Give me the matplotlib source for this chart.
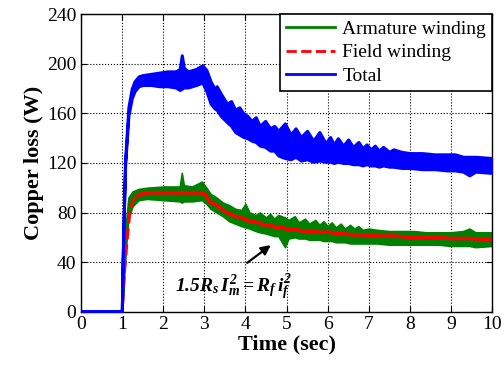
"""Copper loss of armature and field windings during start-up."""

import matplotlib

matplotlib.use("Agg")

import matplotlib.pyplot as plt
from matplotlib.lines import Line2D

# Total copper loss band (W)
t_total = [0.0, 0.99, 1.01, 1.04, 1.07, 1.15, 1.23, 1.3, 1.4, 1.5, 1.7, 1.9, 2.1, 2.3,
           2.4, 2.45, 2.5, 2.6, 2.8, 2.95, 3.05, 3.15, 3.25, 3.3, 3.4, 3.55, 3.65,
           3.75, 3.85, 3.95, 4.05, 4.15, 4.25, 4.35, 4.48, 4.6, 4.7, 4.8, 4.96, 5.1,
           5.22, 5.35, 5.5, 5.65, 5.8, 5.95, 6.06, 6.15, 6.25, 6.38, 6.5, 6.62, 6.75,
           6.85, 6.95, 7.05, 7.15, 7.25, 7.35, 7.5, 7.6, 7.8, 8.0, 8.3, 8.6, 8.9,
           9.1, 9.3, 9.45, 9.6, 10.0]
total_upper = [0, 0, 40, 82, 122, 165, 180, 186, 190, 191, 192, 193, 194, 194,
               196, 207, 197, 194, 196, 199, 195, 186, 180, 182, 176, 168, 170,
               163, 165, 160, 158, 154, 157, 150, 154, 148, 150, 146, 152, 143,
               148, 141, 146, 138, 145, 136, 141, 135, 140, 134, 139, 133, 137,
               132, 135, 131, 134, 130, 133, 129, 131, 129, 128, 128, 127, 127,
               127, 125, 125, 125, 124]
total_lower = [0, 0, 40, 82, 118, 158, 172, 178, 182, 183, 183, 182, 182, 181,
               179, 180, 181, 181, 183, 185, 178, 168, 164, 163, 158, 153, 150,
               145, 143, 141, 140, 138, 137, 134, 133, 130, 130, 126, 124, 123,
               125, 122, 123, 121, 122, 121, 121, 120, 121, 120, 120, 119, 119,
               118, 119, 118, 118, 117, 118, 117, 117, 116, 116, 115, 115, 114,
               114, 113, 110, 113, 112]

# Armature winding copper loss band (W)
t_arm = [0.0, 1.0, 1.05, 1.1, 1.15, 1.25, 1.4, 1.6, 2.0, 2.4, 2.45, 2.5, 2.7, 2.94,
         3.05, 3.15, 3.3, 3.45, 3.6, 3.75, 3.9, 4.0, 4.1, 4.25, 4.35, 4.5, 4.6,
         4.7, 4.8, 4.96, 5.05, 5.2, 5.3, 5.45, 5.55, 5.7, 5.8, 5.9, 6.0, 6.1,
         6.2, 6.32, 6.42, 6.55, 6.65, 6.75, 6.85, 7.0, 7.2, 7.5, 7.8, 8.1, 8.4,
         8.7, 9.0, 9.3, 9.45, 9.6, 10.0]
arm_upper = [0, 0, 45, 75, 92, 97, 99, 100, 101, 101, 112, 102, 101, 105,
             100, 95, 92, 88, 86, 83, 82, 87, 80, 78, 80, 76, 79,
             75, 78, 76, 74, 77, 72, 75, 71, 74, 70, 73, 69, 72,
             68, 71, 67, 70, 67, 69, 66, 67, 66, 65, 65, 65, 64,
             64, 64, 65, 67, 64, 64]
arm_lower = [0, 0, 30, 55, 75, 85, 90, 91, 90, 89, 88, 89, 89, 90,
             87, 83, 80, 77, 73, 71, 69, 68, 67, 65, 64, 63, 62,
             61, 61, 52, 59, 60, 59, 59, 58, 58, 58, 57, 57, 57,
             56, 56, 56, 55, 55, 55, 55, 55, 55, 54, 54, 54, 54,
             54, 53, 53, 53, 52, 53]

# Field winding copper loss (W)
t_field = [0.0, 1.0, 1.05, 1.11, 1.18, 1.26, 1.39, 1.6, 2.0, 2.5, 2.95, 3.05, 3.15,
           3.3, 3.45, 3.6, 3.75, 3.9, 4.1, 4.3, 4.44, 4.6, 4.75, 4.9, 5.05, 5.25,
           5.4, 5.6, 5.8, 6.06, 6.3, 6.6, 6.87, 7.2, 7.6, 8.0, 8.5, 9.0, 9.5, 10.0]
field_loss = [0, 0, 30, 55, 79, 90, 94, 96, 96, 96, 96, 93, 88,
              86, 82, 79, 77, 76, 73, 72, 70, 70, 68, 68, 66, 66,
              65, 65, 64, 64, 63, 62, 62, 61, 61, 60, 60, 59, 59, 58]

legend_labels = ["Armature winding", "Field winding", "Total"]
x_ticks = list(range(0, 11))
y_ticks = list(range(0, 241, 40))

GREEN = "#008000"
RED = "#ff0000"
BLUE = "#0000ff"

plt.rcParams["font.family"] = "serif"
plt.rcParams["font.serif"] = ["Liberation Serif", "DejaVu Serif"]
plt.rcParams["mathtext.fontset"] = "custom"
plt.rcParams["mathtext.rm"] = "Liberation Serif:bold:italic"
plt.rcParams["mathtext.it"] = "Liberation Serif:bold:italic"
plt.rcParams["mathtext.bf"] = "Liberation Serif:bold:italic"

fig = plt.figure(figsize=(5.04, 3.70), dpi=100)
ax = fig.add_axes([0.161, 0.158, 0.815, 0.803])

ax.fill_between(t_arm, arm_lower, arm_upper, color=GREEN, linewidth=1.2, zorder=2)
ax.plot(t_field, field_loss, color=RED, linestyle="--", linewidth=2.2, zorder=3)
plateau = [i for i, t in enumerate(t_field) if t >= 1.3]
ax.plot([t_field[i] for i in plateau], [field_loss[i] for i in plateau],
        color=RED, linewidth=2.6, zorder=3)
ax.fill_between(t_total, total_lower, total_upper, color=BLUE, linewidth=2.2, zorder=4)

ax.set_xlim(0, 10)
ax.set_ylim(0, 240)
ax.set_xticks(x_ticks)
ax.set_yticks(y_ticks)
ax.tick_params(direction="in", top=True, right=True, labelsize=14, length=4)
for label in ax.get_xticklabels() + ax.get_yticklabels():
    label.set_fontfamily("Liberation Serif")
ax.grid(True, color="black", linestyle=":", linewidth=0.8)
ax.set_axisbelow(True)
for spine in ax.spines.values():
    spine.set_linewidth(1.0)

ax.set_xlabel("Time (sec)", fontsize=16, fontweight="bold", labelpad=1)
ax.set_ylabel("Copper loss (W)", fontsize=16, fontweight="bold", labelpad=2)

ax.annotate("", xy=(4.67, 55), xytext=(3.99, 38),
            arrowprops=dict(arrowstyle="-|>", color="black", lw=1.6,
                            mutation_scale=14), zorder=6)
ax.text(3.72, 20, r"$1.5R_s\,I_m^2 = R_f\,i_f^2$", fontsize=14,
        ha="center", va="center", zorder=6)

handles = [
    Line2D([], [], color=GREEN, linewidth=2),
    Line2D([], [], color=RED, linewidth=2, linestyle="--"),
    Line2D([], [], color=BLUE, linewidth=2),
]
legend = ax.legend(handles, legend_labels, loc="upper right", fontsize=14,
                   borderaxespad=0, fancybox=False, framealpha=1,
                   edgecolor="black", handlelength=2.5, labelspacing=0.3,
                   borderpad=0.3, handletextpad=0.4)
legend.get_frame().set_linewidth(1.2)
legend.set_zorder(7)

fig.savefig("out.png", dpi=100)
